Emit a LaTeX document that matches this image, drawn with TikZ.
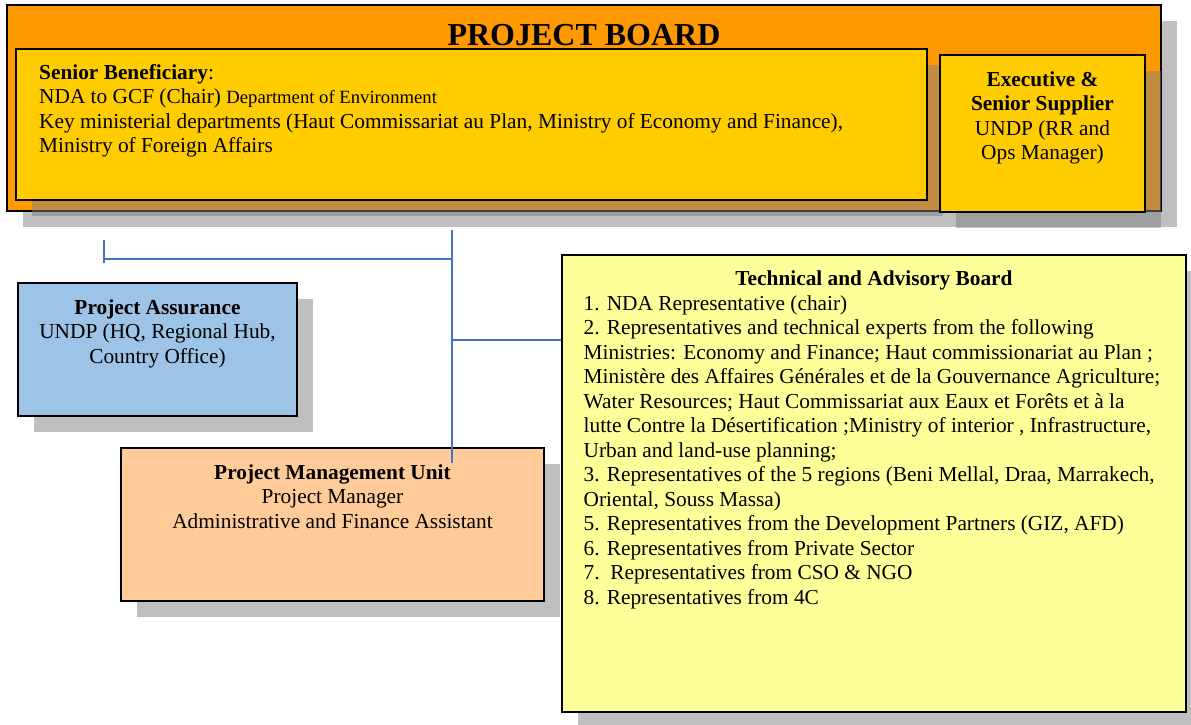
\documentclass[tikz,border=0pt]{standalone}
\usepackage{fontspec}
\setmainfont{Liberation Serif}
\usetikzlibrary{shadows}
\definecolor{boardorange}{HTML}{FF9900}
\definecolor{roleyellow}{HTML}{FFCC00}
\definecolor{assureblue}{HTML}{9DC3E6}
\definecolor{pmupeach}{HTML}{FFCC99}
\definecolor{tabyellow}{HTML}{FFFF99}
\definecolor{linkblue}{HTML}{4472C4}
\begin{document}
\begin{tikzpicture}[x=1pt,y=-1pt,
  orgbox/.style={draw=black, line width=1.9pt, inner sep=0pt,
    drop shadow={shadow xshift=16pt, shadow yshift=-16pt, fill=gray, opacity=0.5}},
  bodytext/.style={inner sep=0pt, font=\fontsize{21.33}{24.5}\selectfont},
  link/.style={draw=linkblue, line width=2.5pt}]
\useasboundingbox (0,0) rectangle (1191,725);
\clip (0,0) rectangle (1191,725);

% Project board frame
\node[orgbox, fill=boardorange, minimum width=1154pt, minimum height=206pt] (board) at (584,108) {};
\node[inner sep=0pt, anchor=base, font=\bfseries\fontsize{32}{36}\selectfont] (boardtitle) at (584,46) {PROJECT BOARD};

% Senior beneficiary
\node[orgbox, fill=roleyellow, minimum width=911pt, minimum height=151pt] (senior) at (471.5,124.5) {};
\node[bodytext, anchor=north west, align=left] (seniortext) at (39,61.85)
  {\strut\textbf{Senior Beneficiary}:\\
   NDA to GCF (Chair) {\fontsize{18.67}{24.5}\selectfont Department of Environment}\\
   Key ministerial departments (Haut Commissariat au Plan, Ministry of Economy and Finance),\\
   Ministry of Foreign Affairs};

% Executive and senior supplier
\node[orgbox, fill=roleyellow, minimum width=205pt, minimum height=157pt] (exec) at (1042.5,133.5) {};
\node[bodytext, anchor=north, align=center] (exectext) at (1042.5,68.85)
  {\strut\textbf{Executive \&}\\\textbf{Senior Supplier}\\UNDP (RR and\\Ops Manager)};

% Project assurance
\node[orgbox, fill=assureblue, minimum width=279pt, minimum height=133pt] (assure) at (157.5,349.5) {};
\node[bodytext, anchor=north, align=center] (assuretext) at (157.5,296.85)
  {\strut\textbf{Project Assurance}\\UNDP (HQ, Regional Hub,\\Country Office)};

% Project management unit
\node[orgbox, fill=pmupeach, minimum width=423pt, minimum height=153pt] (pmu) at (332.5,524.5) {};
\node[bodytext, anchor=north, align=center] (pmutext) at (332.5,461.85)
  {\strut\textbf{Project Management Unit}\\Project Manager\\Administrative and Finance Assistant};

% Technical and advisory board
\node[orgbox, fill=tabyellow, minimum width=624pt, minimum height=457pt] (tab) at (874,483.5) {};
\node[bodytext, anchor=base, font=\bfseries\fontsize{21.33}{24.5}\selectfont] (tabtitle) at (874,285) {Technical and Advisory Board};
\node[bodytext, anchor=north west, align=left] (tablist) at (583.5,292.85)
  {\strut 1. NDA Representative (chair)\\
   2. Representatives and technical experts from the following\\
   Ministries: Economy and Finance; Haut commissionariat au Plan ;\\
   Ministère des Affaires Générales et de la Gouvernance Agriculture;\\
   Water Resources; Haut Commissariat aux Eaux et Forêts et à la\\
   lutte Contre la Désertification ;Ministry of interior , Infrastructure,\\
   Urban and land-use planning;\\
   3. Representatives of the 5 regions (Beni Mellal, Draa, Marrakech,\\
   Oriental, Souss Massa)\\
   5. Representatives from the Development Partners (GIZ, AFD)\\
   6. Representatives from Private Sector\\
   7.\ \ Representatives from CSO \& NGO\\
   8. Representatives from 4C};

% Connector points
\coordinate (boardlink) at (452,230);
\coordinate (pmulink) at (452,463);
\coordinate (assurejoin) at (452,259);
\coordinate (tabjoin) at (452,340);
\coordinate (assurehook) at (104,259);
\coordinate (assurehooktop) at (104,240);
\coordinate (assurehookbot) at (104,263);

% Connectors
\draw[link] (boardlink) -- (pmulink);
\draw[link] (assurejoin) -- (assurehook);
\draw[link] (assurehooktop) -- (assurehookbot);
\draw[link] (tabjoin) -- (tabjoin -| tab.west);
\end{tikzpicture}
\end{document}
